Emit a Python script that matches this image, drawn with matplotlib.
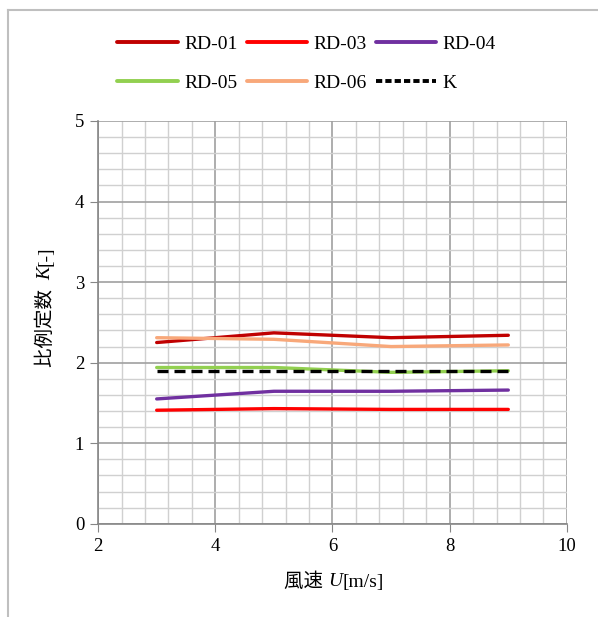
import matplotlib
matplotlib.use("Agg")
import matplotlib.pyplot as plt
from matplotlib.lines import Line2D

plt.rcParams["font.family"] = ["Liberation Serif", "Noto Sans CJK JP"]

# data
U = [3, 5, 7, 9]
rd01 = [2.25, 2.37, 2.31, 2.34]
rd03 = [1.41, 1.43, 1.42, 1.42]
rd04 = [1.55, 1.645, 1.645, 1.66]
rd05 = [1.94, 1.94, 1.88, 1.90]
rd06 = [2.31, 2.29, 2.20, 2.22]
k_val = [1.90, 1.90, 1.90, 1.90]

names = ["RD-01", "RD-03", "RD-04", "RD-05", "RD-06", "K"]
colors = ["#C00000", "#FF0000", "#7030A0", "#92D050", "#F8A87A", "#000000"]

fig = plt.figure(figsize=(5.98, 6.17), dpi=100)
ax = fig.add_axes([0.164, 0.151, 0.784, 0.653])

series = [rd01, rd03, rd04, rd05, rd06]
for vals, c, n in zip(series, colors[:5], names[:5]):
    ax.plot(U, vals, color=c, lw=2.4, solid_capstyle="round", label=n)
ax.plot(U, k_val, color="black", lw=2.4, ls=(0, (3.3, 1.8)),
        dash_capstyle="butt", label="K")

ax.set_xlim(2, 10)
ax.set_ylim(0, 5)
ax.set_xticks([2, 4, 6, 8, 10])
ax.set_yticks([0, 1, 2, 3, 4, 5])
ax.set_xticks([2 + 0.4 * i for i in range(21)], minor=True)
ax.set_yticks([0.2 * i for i in range(26)], minor=True)
ax.grid(which="minor", color="#D0D0D0", lw=1.0)
ax.grid(which="major", color="#A0A0A0", lw=1.2)
ax.set_axisbelow(True)
ax.tick_params(which="major", direction="out", length=6, color="#868686",
               labelsize=13.5, pad=4)
ax.tick_params(which="minor", length=0)
for s in ["top", "right"]:
    ax.spines[s].set_visible(False)
for s in ["left", "bottom"]:
    ax.spines[s].set_color("#868686")
    ax.spines[s].set_linewidth(1.2)

# x label: 風速 U[m/s]
fs = 14
tu = fig.text(335 / 598, 1 - 582 / 617, "U", fontsize=fs, style="italic",
              ha="center", va="center")
ax.annotate("風速 ", xy=(0, 0.5), xycoords=tu, ha="right", va="center", fontsize=fs)
ax.annotate("[m/s]", xy=(1, 0.5), xycoords=tu, ha="left", va="center", fontsize=fs)

# y label: 比例定数 K[-]
tk = fig.text(46 / 598, 1 - 273 / 617, "K", fontsize=fs, style="italic",
              rotation=90, ha="center", va="center")
ax.annotate("比例定数  ", xy=(0.5, 0), xycoords=tk, ha="center", va="top",
            rotation=90, fontsize=fs)
ax.annotate("[-]", xy=(0.5, 1), xycoords=tk, ha="center", va="bottom",
            rotation=90, fontsize=fs)

# legend, filled row by row like the reference
handles = [Line2D([0], [0], color=c, lw=2.8, solid_capstyle="round") for c in colors[:5]]
handles.append(Line2D([0], [0], color="black", lw=2.8, ls=(0, (1.6, 0.8))))
order = [0, 3, 1, 4, 2, 5]
fig.legend([handles[i] for i in order], [names[i] for i in order],
           loc="center", bbox_to_anchor=(0.513, 0.897), ncol=3,
           frameon=False, fontsize=14, handlelength=3.1, handletextpad=0.35,
           columnspacing=0.45, labelspacing=1.1)

# chart area border
fig.add_artist(Line2D([8 / 598, 8 / 598], [0, 1 - 10 / 617], transform=fig.transFigure,
                      color="#BFBFBF", lw=1.5))
fig.add_artist(Line2D([8 / 598, 1], [1 - 10 / 617, 1 - 10 / 617], transform=fig.transFigure,
                      color="#BFBFBF", lw=1.5))

fig.savefig("out.png", dpi=100)
